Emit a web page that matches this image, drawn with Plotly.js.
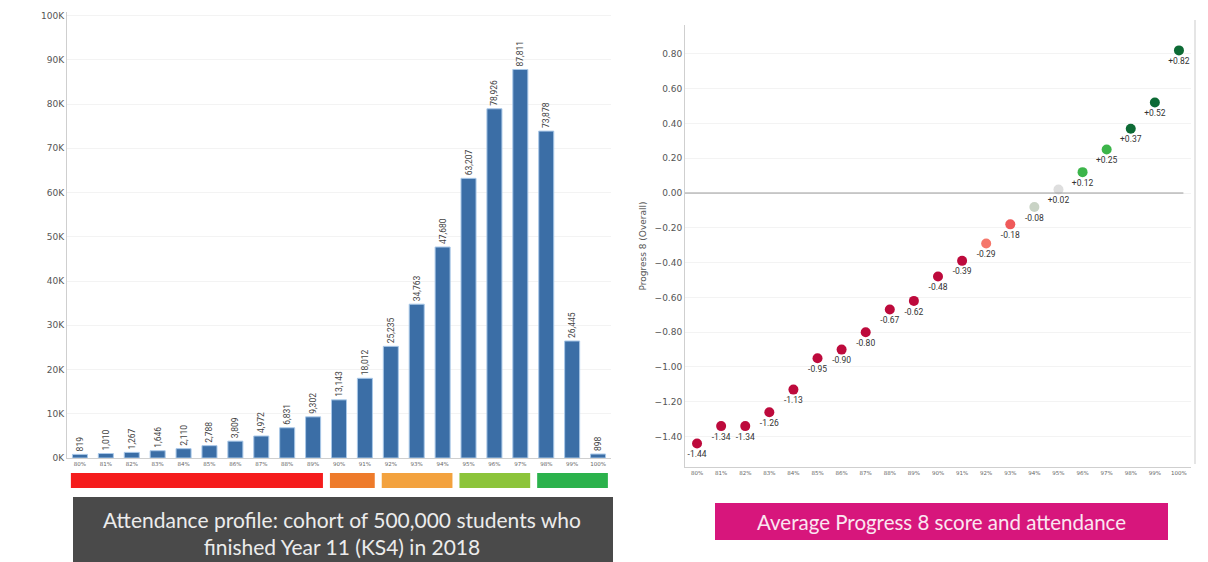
<!DOCTYPE html>
<html>
<head>
<meta charset="utf-8">
<script src="https://cdn.plot.ly/plotly-3.0.1.min.js"></script>
<style>html,body{margin:0;padding:0;background:#fff;}#chart{width:1208px;height:562px;}</style>
</head>
<body>
<div id="chart"></div>
<script>
// ---- data ----
const categories = ['80%','81%','82%','83%','84%','85%','86%','87%','88%','89%','90%','91%','92%','93%','94%','95%','96%','97%','98%','99%','100%'];
const studentCounts = [819,1010,1267,1646,2110,2788,3809,4972,6831,9302,13143,18012,25235,34763,47680,63207,78926,87811,73878,26445,898];
const progress8 = [-1.44,-1.34,-1.34,-1.26,-1.13,-0.95,-0.90,-0.80,-0.67,-0.62,-0.48,-0.39,-0.29,-0.18,-0.08,0.02,0.12,0.25,0.37,0.52,0.82];
const yTickVals = [0,10000,20000,30000,40000,50000,60000,70000,80000,90000,100000];
const yTickText = ['0K','10K','20K','30K','40K','50K','60K','70K','80K','90K','100K'];
const p8TickVals = [-1.4,-1.2,-1.0,-0.8,-0.6,-0.4,-0.2,0,0.2,0.4,0.6,0.8];
const bandStart = ['80%','90%','92%','95%','98%'];
const bandEnd = ['89%','91%','94%','97%','100%'];
const bandColors = ['#f51c1c','#ee7b2b','#f3a23e','#8cc43a','#2bb24c'];
const pointColors = ['#bd0a3c','#bd0a3c','#bd0a3c','#bd0a3c','#bd0a3c','#bd0a3c','#bd0a3c','#bd0a3c','#bd0a3c','#bd0a3c','#bd0a3c','#bd0a3c',
  '#f5776b','#ef5a5a','#c9d3c5','#dedede','#3cb54a','#3cb54a','#0d6a35','#0d6a35','#0d6a35'];
const leftCaption = 'Attendance profile: cohort of 500,000 students who<br>finished Year 11 (KS4) in 2018';
const rightCaption = 'Average Progress 8 score and attendance';

const W = 1208, H = 562;
const px = v => v / W, py = v => (H - v) / H;

const barText = studentCounts.map(v => v.toLocaleString('en-US'));
const p8Text = progress8.map(v => (v > 0 ? '+' : '') + v.toFixed(2));

const traces = [
  {
    type: 'bar', x: categories, y: studentCounts, xaxis: 'x', yaxis: 'y',
    marker: {color: '#3b6ea6', line: {color: '#a9c8e8', width: 1}},
    text: barText, textposition: 'outside', textangle: -90, constraintext: 'none',
    textfont: {size: 8.5, color: '#444', family: 'Roboto, Arial, sans-serif'},
    cliponaxis: false, hoverinfo: 'x+y'
  },
  {
    type: 'scatter', mode: 'markers+text', x: categories, y: progress8, xaxis: 'x2', yaxis: 'y2',
    marker: {size: 10, color: pointColors},
    text: p8Text, textposition: 'bottom center',
    textfont: {size: 8.5, color: '#333', family: 'Roboto, Arial, sans-serif'},
    cliponaxis: false
  }
];

const shapes = [];
bandStart.forEach((s, i) => {
  shapes.push({type: 'rect', xref: 'x', yref: 'paper',
    x0: categories.indexOf(s) - 0.35, x1: categories.indexOf(bandEnd[i]) + 0.38,
    y0: py(488), y1: py(473), fillcolor: bandColors[i], line: {width: 0}});
});
// caption boxes
shapes.push({type: 'rect', xref: 'paper', yref: 'paper', x0: px(73), x1: px(613), y0: py(562), y1: py(497), fillcolor: '#4a4a4a', line: {width: 0}});
shapes.push({type: 'rect', xref: 'paper', yref: 'paper', x0: px(715), x1: px(1168), y0: py(540), y1: py(503), fillcolor: '#d7167c', line: {width: 0}});
// zero line and right frame for the progress chart
shapes.push({type: 'line', xref: 'x2 domain', yref: 'y2', x0: 0, x1: 0.985, y0: 0, y1: 0, line: {color: '#9a9a9a', width: 1}});
shapes.push({type: 'line', xref: 'paper', yref: 'paper', x0: px(1195), x1: px(1195), y0: py(464), y1: py(20), line: {color: '#dcdcdc', width: 1.5}});

const tickFont = {size: 9, color: '#555', family: 'DejaVu Sans, Arial, sans-serif'};
const smallTick = {size: 5.5, color: '#666', family: 'DejaVu Sans, Arial, sans-serif'};

const layout = {
  width: W, height: H, margin: {l: 0, r: 0, t: 0, b: 0},
  paper_bgcolor: '#fff', plot_bgcolor: '#fff', showlegend: false,
  bargap: 0.42,
  xaxis: {domain: [px(67), px(611)], anchor: 'y', type: 'category', range: [-0.5, 20.5],
    showline: true, linecolor: '#cfcfcf', ticks: '', tickfont: smallTick, showgrid: false, fixedrange: true},
  yaxis: {domain: [py(458), py(12)], anchor: 'x', range: [0, 100800], tickvals: yTickVals, ticktext: yTickText,
    showline: true, linecolor: '#cfcfcf', gridcolor: '#f3f3f3', zeroline: false, tickfont: tickFont, ticklen: 0, ticks: ''},
  xaxis2: {domain: [px(685), px(1191)], anchor: 'y2', type: 'category', range: [-0.5, 20.5],
    showline: true, linecolor: '#cfcfcf', ticks: '', tickfont: smallTick, showgrid: false},
  yaxis2: {domain: [py(467), py(25)], anchor: 'x2', range: [-1.575, 0.966], tickvals: p8TickVals, tickformat: '.2f',
    showline: true, linecolor: '#cfcfcf', gridcolor: '#f3f3f3', zeroline: false, tickfont: tickFont, ticks: '',
    title: {text: 'Progress 8 (Overall)', font: {size: 9, color: '#555', family: 'DejaVu Sans, Arial, sans-serif'}, standoff: 6}},
  shapes: shapes,
  annotations: [
    {xref: 'paper', yref: 'paper', x: px(342), y: py(533), xanchor: 'center', yanchor: 'middle', text: leftCaption, showarrow: false,
      font: {size: 21, color: '#ececec', family: 'Lato, Open Sans, sans-serif'}, align: 'center'},
    {xref: 'paper', yref: 'paper', x: px(941), y: py(522), xanchor: 'center', yanchor: 'middle', text: rightCaption, showarrow: false,
      font: {size: 20.5, color: '#fbe6f1', family: 'Lato, Open Sans, sans-serif'}, align: 'center'}
  ]
};

Plotly.newPlot('chart', traces, layout, {displayModeBar: false, staticPlot: true});
</script>
</body>
</html>
